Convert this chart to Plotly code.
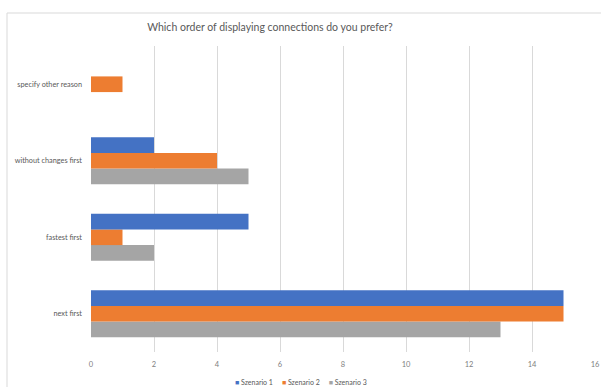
import plotly.graph_objects as go

# Survey answers per scenario
categories = ["next first", "fastest first", "without changes first", "specify other reason"]
series_names = ["Szenario 1", "Szenario 2", "Szenario 3"]
szenario_1 = [15, 5, 2, 0]
szenario_2 = [15, 1, 4, 1]
szenario_3 = [13, 2, 5, 0]
x_ticks = [0, 2, 4, 6, 8, 10, 12, 14, 16]

colors = ["#4472C4", "#ED7D31", "#A5A5A5"]
values = [szenario_1, szenario_2, szenario_3]

W, H = 601, 387
ML, MR, MT, MB = 91, 6, 46, 35
FONT = "Lato, Carlito, 'Open Sans', sans-serif"
TXT = "#595959"
GRID = "#D9D9D9"

fig = go.Figure()
# Added in reverse so Szenario 1 sits on top within each group
for name, vals, col in reversed(list(zip(series_names, values, colors))):
    fig.add_trace(go.Bar(
        y=categories, x=vals, name=name, orientation="h",
        marker=dict(color=col, line=dict(width=0)),
        showlegend=False,
    ))

# Compact legend line below the axis
legend_text = "&nbsp;&nbsp;&nbsp;&nbsp;&nbsp;".join(
    f"<span style='color:{c}'>■</span> {n}" for n, c in zip(series_names, colors)
)

fig.update_layout(
    width=W, height=H,
    margin=dict(l=ML, r=MR, t=MT, b=MB, autoexpand=False),
    paper_bgcolor="white", plot_bgcolor="white",
    barmode="group", bargap=0.385, bargroupgap=0,
    font=dict(family=FONT, color=TXT, size=8),
    title=dict(
        text="Which order of displaying connections do you prefer?",
        x=(270 - ML) / (W - ML - MR), xref="paper", xanchor="center",
        y=1 - 27 / H, yref="container", yanchor="middle",
        font=dict(family=FONT, size=10.5, color="#595959"),
    ),
    xaxis=dict(
        range=[0, 16], tickvals=x_ticks, showgrid=True, gridcolor=GRID, gridwidth=1,
        zeroline=False, showline=False, ticks="", ticklabelstandoff=6,
        tickfont=dict(size=7.5, color="#808080"), fixedrange=True, automargin=False,
    ),
    yaxis=dict(
        categoryorder="array", categoryarray=categories, range=[-0.5, 3.5],
        showgrid=False, zeroline=False, showline=False, ticks="",
        ticklabelstandoff=8, tickfont=dict(size=7.3, color=TXT), automargin=False,
    ),
    annotations=[dict(
        text=legend_text, xref="paper", yref="paper",
        x=(301 - ML) / (W - ML - MR), y=-(382 - (H - MB)) / (H - MT - MB),
        xanchor="center", yanchor="middle", showarrow=False,
        font=dict(family=FONT, size=7, color=TXT),
    )],
    shapes=[dict(
        type="rect", xref="paper", yref="paper", layer="below",
        x0=-(ML - 7) / (W - ML - MR), x1=1.1,
        y0=-0.3, y1=((H - MB) - 13) / (H - MT - MB),
        line=dict(color=GRID, width=1), fillcolor="rgba(0,0,0,0)",
    )],
)

fig.write_html("out.html")
